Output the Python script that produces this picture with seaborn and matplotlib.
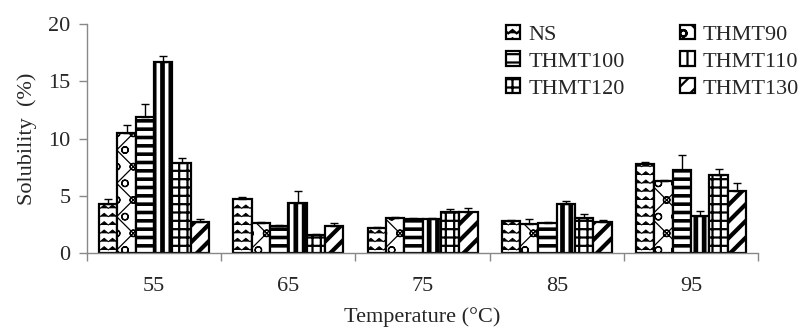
import warnings
import numpy as np
import pandas as pd
import matplotlib
matplotlib.use("Agg")
import matplotlib.pyplot as plt
import matplotlib.hatch as mhatch
from matplotlib.path import Path
from matplotlib.ticker import FixedLocator
import seaborn as sns

warnings.filterwarnings("ignore")

# ---- data -------------------------------------------------------------
temperatures = ["55", "65", "75", "85", "95"]
series = ["NS", "THMT90", "THMT100", "THMT110", "THMT120", "THMT130"]

ns_vals      = [4.3, 4.7, 2.2, 2.8, 7.75]
thmt90_vals  = [10.5, 2.6, 3.05, 2.5, 6.3]
thmt100_vals = [11.9, 2.35, 3.0, 2.65, 7.25]
thmt110_vals = [16.65, 4.4, 3.0, 4.25, 3.25]
thmt120_vals = [7.9, 1.6, 3.6, 3.1, 6.8]
thmt130_vals = [2.7, 2.4, 3.6, 2.75, 5.4]

ns_err      = [0.4, 0.2, 0.1, 0.1, 0.2]
thmt90_err  = [0.7, 0.1, 0.1, 0.45, 0.1]
thmt100_err = [1.1, 0.1, 0.1, 0.1, 1.35]
thmt110_err = [0.55, 1.0, 0.1, 0.3, 0.4]
thmt120_err = [0.4, 0.1, 0.2, 0.35, 0.55]
thmt130_err = [0.25, 0.25, 0.35, 0.1, 0.7]

values = [ns_vals, thmt90_vals, thmt100_vals, thmt110_vals, thmt120_vals, thmt130_vals]
errors = [ns_err, thmt90_err, thmt100_err, thmt110_err, thmt120_err, thmt130_err]

df = pd.DataFrame(
    [(t, s, v) for s, vals in zip(series, values) for t, v in zip(temperatures, vals)],
    columns=["Temperature", "Series", "Solubility"],
)


# ---- custom zig-zag hatch ---------------------------------------------
class ChevronHatch(mhatch.HatchPatternBase):
    def __init__(self, hatch, density):
        self.num = hatch.count("^") * density
        self.num_vertices = self.num * (2 * self.num + 1) if self.num else 0

    def set_vertices_and_codes(self, vertices, codes):
        n = self.num
        step = 1.0 / n
        xs = np.linspace(0, 1, 2 * n + 1)
        k = 0
        for r in range(n):
            y0 = r * step
            for j, x in enumerate(xs):
                vertices[k] = (x, y0 + (0.4 * step if j % 2 else 0.0))
                codes[k] = Path.MOVETO if j == 0 else Path.LINETO
                k += 1


mhatch._hatch_types.append(ChevronHatch)

hatches = ["^^", "xo", "--", "||", "++", "//"]
hatch_lw = [0.7, 0.9, 2.6, 3.4, 1.6, 3.0]

# ---- figure -----------------------------------------------------------
sns.set_theme(style="white")
plt.rcParams["font.family"] = ["Liberation Serif", "DejaVu Serif"]
plt.rcParams["hatch.color"] = "black"
plt.rcParams["hatch.linewidth"] = 1.6

fig = plt.figure(figsize=(8.08, 3.29), dpi=100)
ax = fig.add_axes([0.1077, 0.231, 0.8306, 0.696])

sns.barplot(
    data=df, x="Temperature", y="Solubility", hue="Series",
    order=temperatures, hue_order=series,
    errorbar=None, width=0.82, gap=0.0,
    palette=["white"] * 6, edgecolor="black", linewidth=1.6,
    legend=False, ax=ax,
)

for cont, h, lw, err in zip(ax.containers, hatches, hatch_lw, errors):
    xs, tops = [], []
    for bar in cont.patches:
        bar.set_hatch(h)
        if hasattr(bar, "set_hatch_linewidth"):
            bar.set_hatch_linewidth(lw)
        xs.append(bar.get_x() + bar.get_width() / 2)
        tops.append(bar.get_height())
    ax.errorbar(xs, tops, yerr=[np.zeros(len(err)), err], fmt="none",
                ecolor="black", elinewidth=1.0, capsize=3, capthick=1.0, zorder=5)

# ---- axes styling -----------------------------------------------------
ax.set_ylim(0, 20)
ax.set_yticks([0, 5, 10, 15, 20])
ax.set_xlim(-0.5, len(temperatures) - 0.5)
ax.xaxis.set_minor_locator(FixedLocator(np.arange(-0.5, len(temperatures), 1.0)))
ax.tick_params(axis="x", which="major", length=0, pad=17, labelsize=16)
ax.tick_params(axis="x", which="minor", length=6, width=1, color="#888888", direction="out", bottom=True)
ax.tick_params(axis="y", which="major", length=6, width=1, color="#888888", direction="out", left=True, labelsize=16, pad=6)

for side in ["top", "right"]:
    ax.spines[side].set_visible(False)
for side in ["left", "bottom"]:
    ax.spines[side].set_color("#888888")
    ax.spines[side].set_linewidth(1.0)

ax.set_xlabel("Temperature (°C)", fontsize=16, labelpad=8)
ax.set_ylabel("Solubility  (%)", fontsize=16, labelpad=8)

# legend filled row by row: NS, THMT90 / THMT100, THMT110 / THMT120, THMT130
order = [0, 2, 4, 1, 3, 5]
leg = ax.legend(
    [ax.containers[i] for i in order], [series[i] for i in order],
    ncol=2, loc="upper right",
    bbox_to_anchor=(1.09, 1.085), frameon=False, fontsize=16,
    handlelength=0.65, handleheight=0.65, handletextpad=0.35,
    columnspacing=2.5, labelspacing=0.3,
)

fig.savefig("out.png", dpi=100)
